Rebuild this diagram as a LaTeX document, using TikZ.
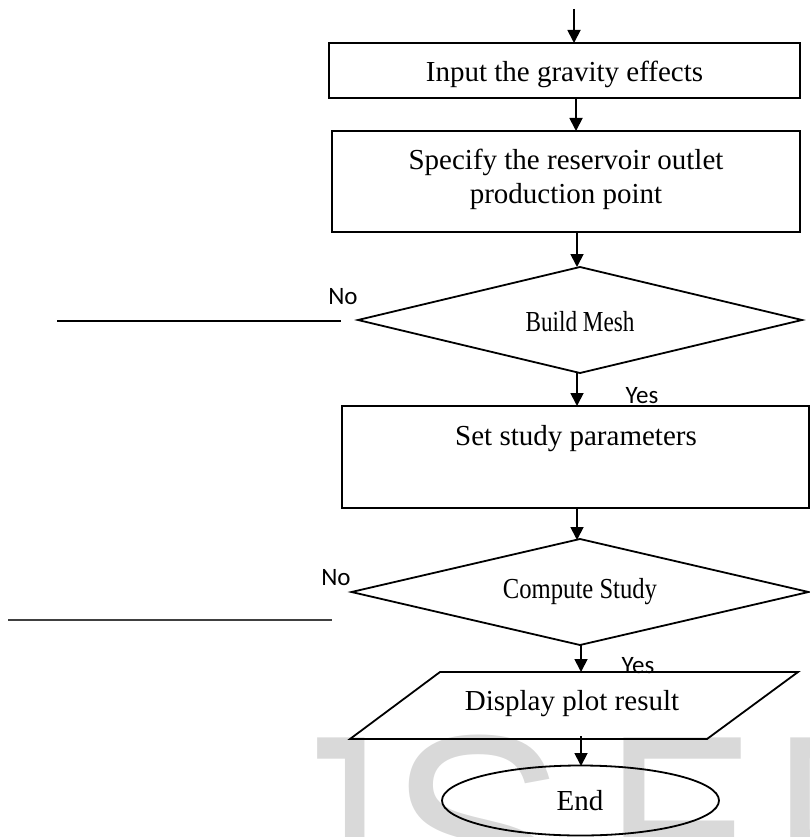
\documentclass[tikz,border=0pt]{standalone}
\usepackage{fontspec}
\usepackage{graphicx}
\setmainfont{Liberation Serif}
\newfontfamily\lblfont{Carlito}
\newfontfamily\wmfont{Liberation Sans}
\usetikzlibrary{shapes.geometric,arrows.meta}
\begin{document}
\begin{tikzpicture}[x=1pt,y=-1pt,
  box/.style={draw,line width=1.8pt,rectangle,inner sep=0pt,outer sep=0pt},
  dec/.style={draw,diamond,line width=1.8pt,inner sep=0pt,outer sep=0pt},
  arr/.style={line width=1.8pt,-{Triangle[length=13pt,width=13pt]}},
  lbl/.style={font=\lblfont\fontsize{25}{25}\selectfont,inner sep=0pt},
  txt/.style={font=\fontsize{29}{33}\selectfont,inner sep=0pt,align=center},
  wm/.style={font=\wmfont\fontsize{280}{280}\selectfont,text=black!15,inner sep=0pt,anchor=base west,xscale=0.75}
]
\useasboundingbox (0,0) rectangle (810,837);
% watermark
\begin{scope}
\clip (0,0) rectangle (810,837);
\node[wm] (wmJ) at (275,930) {J};
\node[wm,xscale=1.27] (wmS) at (388,930) {S};
\node[wm,xscale=1.07] (wmE) at (605,930) {E};
\node[wm] (wmR) at (773,930) {R};
\end{scope}
% boxes
\coordinate (start) at (574,9);
\node[box,minimum width=471pt,minimum height=55pt] (b1) at (564.5,70.5) {};
\node[txt,anchor=base] (t1) at (564.5,82) {Input the gravity effects};
\node[box,minimum width=468pt,minimum height=101pt] (b2) at (566,181.5) {};
\node[txt,anchor=base] (t2a) at (566,170) {Specify the reservoir outlet};
\node[txt,anchor=base] (t2b) at (566,203) {production point};
\node[dec,minimum width=444pt,minimum height=106pt] (d1) at (580,320) {};
\node[txt] (t3) at (580,322) {\scalebox{0.8}[1]{Build Mesh}};
\node[box,minimum width=467pt,minimum height=102pt] (b3) at (575.5,457) {};
\node[txt,anchor=base] (t4) at (576,445) {Set study parameters};
\node[dec,minimum width=457pt,minimum height=106pt] (d2) at (580,592) {};
\node[txt] (t5) at (580,592) {\scalebox{0.85}[1]{Compute Study}};
\node[draw=none,minimum width=448pt,minimum height=67pt,inner sep=0pt,outer sep=0pt] (p) at (574,705.5) {};
\draw[line width=1.8pt,line join=miter] ([xshift=90pt]p.north west) -- (p.north east) -- ([xshift=-91pt]p.south east) -- (p.south west) -- cycle;
\node[txt,anchor=base] (t6) at (572,710) {Display plot result};
\node[draw,ellipse,line width=1.8pt,minimum width=277pt,minimum height=70pt,inner sep=0pt,outer sep=0pt] (e) at (580.5,800.5) {};
\node[txt,anchor=base] (t7) at (580,810) {End};
% labels
\node[lbl] (no1) at (343,297) {No};
\node[lbl] (no2) at (336,578) {No};
\node[lbl,anchor=base] (yes1) at (642,403) {Yes};
\node[lbl,anchor=base] (yes2) at (638,673) {Yes};
% no-lines
\coordinate (n1a) at (57,321);
\coordinate (n1b) at (341,321);
\coordinate (n2a) at (8,620);
\coordinate (n2b) at (332,620);
\draw[line width=1.3pt] (n1a) -- (n1b);
\draw[line width=2pt,black!75] (n2a) -- (n2b);
% arrows
\draw[arr] (start) -- (start |- b1.north);
\draw[arr] (576,98) -- (576,131);
\draw[arr] (577,232) -- (577,267);
\draw[arr] (577,372) -- (577,406);
\draw[arr] (577,508) -- (577,540);
\draw[arr] (581,645) -- (581,672);
\draw[arr] (581,736) -- (581,766);
\end{tikzpicture}
\end{document}
